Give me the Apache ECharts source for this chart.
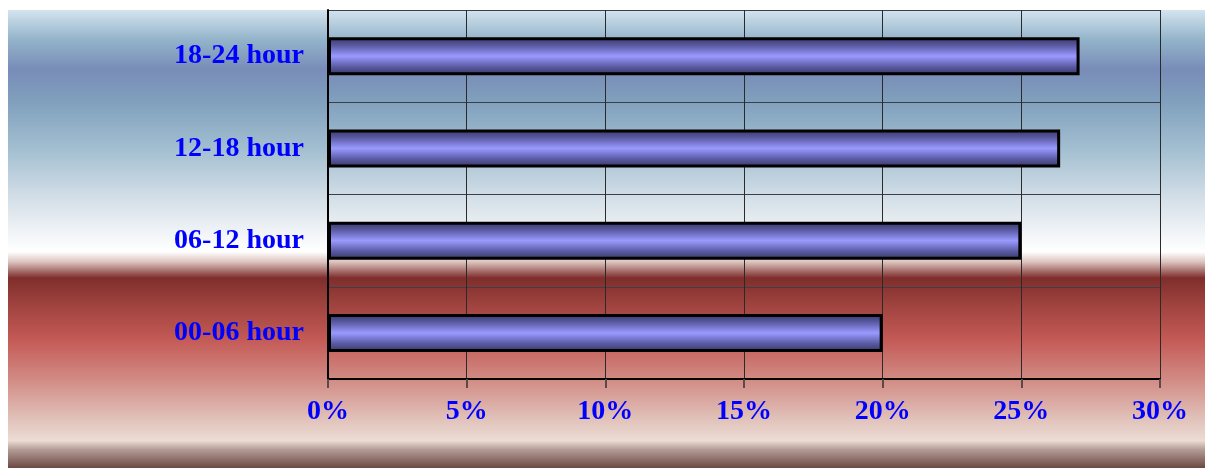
<!DOCTYPE html>
<html>
<head>
<meta charset="utf-8">
<script src="https://cdn.jsdelivr.net/npm/echarts@6/dist/echarts.min.js"></script>
<style>
  html, body { margin: 0; padding: 0; background: #ffffff; }
  #chart { width: 1205px; height: 468px; }
</style>
</head>
<body>
<div id="chart"></div>
<script>
// Share of activity by time-of-day band (percent)
const categories = ['00-06 hour', '06-12 hour', '12-18 hour', '18-24 hour'];
const shares = [20.0, 25.0, 26.4, 27.1];
const tickValues = [0, 5, 10, 15, 20, 25, 30];

const chart = echarts.init(document.getElementById('chart'), null, { renderer: 'canvas' });

const labelFont = {
  fontFamily: '"Liberation Serif", "Times New Roman", serif',
  fontWeight: 'bold',
  fontSize: 28,
  color: '#0000ff'
};

// Horizontal backdrop: blue sky band above, deep red band below
const backdrop = new echarts.graphic.LinearGradient(0, 0, 0, 1, [
  { offset: 0.000, color: '#d4e4ef' },
  { offset: 0.065, color: '#93b3ca' },
  { offset: 0.130, color: '#788cb8' },
  { offset: 0.200, color: '#80a0bd' },
  { offset: 0.305, color: '#a3bfd1' },
  { offset: 0.415, color: '#d5e0e8' },
  { offset: 0.500, color: '#f6f8fa' },
  { offset: 0.528, color: '#ffffff' },
  { offset: 0.550, color: '#dcc3bf' },
  { offset: 0.585, color: '#7e2e2c' },
  { offset: 0.635, color: '#9b403c' },
  { offset: 0.720, color: '#c45a56' },
  { offset: 0.810, color: '#d28d86' },
  { offset: 0.895, color: '#e1c3bb' },
  { offset: 0.940, color: '#ebdcd4' },
  { offset: 0.960, color: '#b49c96' },
  { offset: 1.000, color: '#6c4842' }
]);

const barFill = new echarts.graphic.LinearGradient(0, 0, 0, 1, [
  { offset: 0.00, color: '#36365f' },
  { offset: 0.22, color: '#5a5aa4' },
  { offset: 0.50, color: '#9a9aff' },
  { offset: 0.78, color: '#5a5aa4' },
  { offset: 1.00, color: '#36365f' }
]);

chart.setOption({
  animation: false,
  backgroundColor: '#ffffff',
  graphic: [{
    type: 'rect',
    z: -100,
    silent: true,
    shape: { x: 8, y: 10, width: 1197, height: 458 },
    style: { fill: backdrop }
  }],
  grid: { left: 328, right: 45, top: 10, bottom: 89, containLabel: false },
  xAxis: {
    type: 'value',
    min: tickValues[0],
    max: tickValues[tickValues.length - 1],
    interval: tickValues[1] - tickValues[0],
    axisLine: { show: true, lineStyle: { color: '#000000', width: 2 } },
    axisTick: { show: true, length: 9, lineStyle: { color: '#5a4a48', width: 2 } },
    axisLabel: Object.assign({ margin: 19, formatter: '{value}%' }, labelFont),
    splitLine: { show: true, lineStyle: { color: '#2a2a2a', width: 1 } }
  },
  yAxis: {
    type: 'category',
    data: categories,
    axisLine: { show: true, lineStyle: { color: '#000000', width: 2 } },
    axisTick: { show: false },
    axisLabel: Object.assign({ margin: 24, padding: [6, 0, 0, 0] }, labelFont),
    splitLine: { show: true, lineStyle: { color: '#3e3e46', width: 1 } }
  },
  series: [{
    type: 'bar',
    data: shares,
    barWidth: 38,
    itemStyle: { color: barFill, borderColor: '#000000', borderWidth: 3 }
  }]
});
</script>
</body>
</html>
